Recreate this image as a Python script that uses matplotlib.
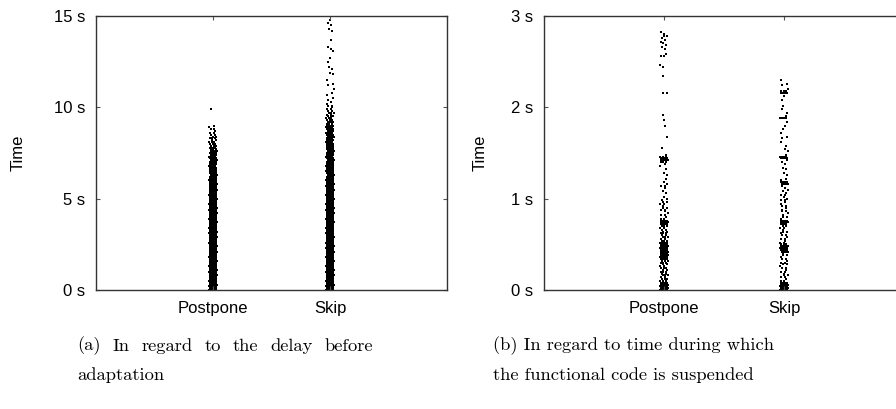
import numpy as np
import matplotlib.pyplot as plt

# number of runs at each time level (left: 0.1 s steps, right: 0.02 s steps)
delay_step = 0.1
delay_postpone = [12, 10, 9, 9, 8, 8, 7, 8, 7, 7,
                  7, 8, 7, 6, 7, 7, 8, 7, 7, 6,
                  7, 7, 7, 6, 7, 8, 7, 6, 7, 7,
                  7, 6, 7, 7, 6, 7, 7, 6, 7, 6,
                  7, 6, 7, 6, 6, 7, 6, 6, 7, 6,
                  6, 6, 7, 6, 6, 6, 6, 5, 6, 6,
                  6, 5, 6, 5, 6, 5, 5, 5, 4, 5,
                  5, 4, 4, 5, 4, 4, 4, 3, 4, 3,
                  3, 3, 2, 3, 2, 2, 2, 1, 2, 1,
                  1, 0, 0, 0, 0, 0, 0, 0, 0, 1]
delay_skip = [12, 10, 9, 8, 8, 8, 7, 8, 7, 7,
              7, 7, 8, 7, 7, 6, 7, 7, 7, 7,
              7, 6, 7, 7, 7, 7, 6, 7, 7, 6,
              7, 7, 6, 7, 7, 7, 6, 7, 6, 7,
              7, 6, 7, 7, 6, 7, 6, 7, 6, 6,
              7, 6, 6, 7, 6, 6, 6, 7, 6, 6,
              6, 6, 6, 5, 6, 6, 5, 6, 6, 5,
              6, 5, 6, 5, 5, 5, 5, 6, 5, 5,
              5, 5, 5, 4, 5, 4, 5, 4, 4, 4,
              4, 3, 4, 3, 3, 3, 2, 3, 2, 2,
              1, 2, 1, 1, 1, 1, 0, 1, 1, 0,
              1, 0, 1, 1, 0, 1, 0, 0, 1, 1,
              0, 1, 1, 0, 0, 1, 0, 1, 0, 0,
              0, 1, 1, 1, 0, 0, 0, 1, 0, 0,
              0, 0, 1, 1, 0, 1, 1, 0, 1, 0]

susp_step = 0.02
susp_postpone = [14, 12, 10, 10, 8, 3, 3, 2, 3, 2,
                 3, 2, 3, 2, 2, 3, 3, 4, 6, 7,
                 8, 8, 9, 8, 9, 8, 6, 3, 2, 3,
                 2, 3, 2, 2, 2, 3, 5, 6, 4, 2,
                 1, 2, 1, 1, 2, 2, 1, 2, 2, 1,
                 1, 1, 0, 1, 1, 0, 1, 2, 1, 1,
                 0, 1, 0, 1, 1, 0, 1, 0, 1, 1,
                 3, 6, 7, 3, 1, 0, 0, 0, 1, 0,
                 0, 0, 0, 0, 1, 0, 0, 0, 0, 0,
                 1, 0, 0, 1, 0, 0, 1, 0, 0, 0,
                 0, 0, 0, 0, 0, 0, 0, 0, 2, 0,
                 0, 0, 0, 0, 0, 0, 0, 1, 0, 0,
                 0, 0, 1, 1, 0, 0, 0, 0, 2, 1,
                 0, 0, 1, 1, 1, 1, 1, 1, 1, 2,
                 1, 1]
susp_skip = [14, 12, 10, 8, 6, 2, 1, 2, 2, 1,
             2, 1, 2, 1, 2, 2, 1, 2, 1, 2,
             1, 4, 6, 7, 5, 3, 2, 1, 2, 1,
             2, 1, 2, 1, 2, 2, 4, 6, 4, 1,
             2, 1, 1, 2, 1, 1, 2, 1, 1, 2,
             1, 1, 2, 1, 1, 1, 1, 1, 4, 5,
             1, 1, 0, 1, 1, 0, 1, 1, 0, 1,
             1, 1, 5, 5, 1, 0, 1, 1, 0, 1,
             0, 1, 0, 1, 1, 0, 1, 0, 1, 0,
             1, 0, 1, 0, 4, 1, 0, 1, 0, 1,
             0, 1, 0, 0, 1, 0, 1, 0, 5, 3,
             1, 0, 1, 1, 0, 1]

categories = ['Postpone', 'Skip']
caption_a = ['(a) In regard to the delay before', 'adaptation']
caption_b = ['(b) In regard to time during which', 'the functional code is suspended']


def strip(ax, pos, counts, step, half):
    xs, ys = [], []
    for i, n in enumerate(counts):
        phase = (i * 0.618) % 1.0
        for k in range(n):
            f = ((k + phase) / n) if n > 1 else phase
            xs.append(pos - half + 2 * half * f)
            ys.append(i * step)
    ax.scatter(xs, ys, s=0.6, marker='s', c='k', linewidths=0)


def justified(fig, line, x0, x1, y):
    # lay words out so the line fills x0..x1 (pixels), like the LaTeX caption
    r = fig.canvas.get_renderer()
    words = line.split()
    ts = [fig.text(0, 1 - y/409, w, family='cmr10', fontsize=13.3, va='center') for w in words]
    ws = [t.get_window_extent(r).width for t in ts]
    gap = (x1 - x0 - sum(ws)) / (len(words) - 1)
    x = x0
    for t, w in zip(ts, ws):
        t.set_x(x / 896)
        x += w + gap


plt.rcParams['font.family'] = ['Liberation Sans', 'DejaVu Sans']
fig = plt.figure(figsize=(8.96, 4.09), dpi=100)
ax1 = fig.add_axes([96/896, 119/409, 351/896, 274/409])
ax2 = fig.add_axes([544/896, 119/409, 360/896, 274/409])

strip(ax1, 1, delay_postpone, delay_step, 0.032)
strip(ax1, 2, delay_skip, delay_step, 0.032)
strip(ax2, 1, susp_postpone, susp_step, 0.032)
strip(ax2, 2, susp_skip, susp_step, 0.032)

for ax, top in [(ax1, 15), (ax2, 3)]:
    ax.set_xlim(0, 3)
    ax.set_ylim(0, top)
    ax.set_xticks([1, 2])
    ax.set_xticklabels(categories)
    ax.set_ylabel('Time', fontsize=12)
    ax.tick_params(direction='in', top=True, right=True, length=3, width=0.8,
                   color='#555555', labelsize=12, pad=8)
    for sp in ax.spines.values():
        sp.set_color('#333333')
        sp.set_linewidth(1.0)

ax1.set_yticks([0, 5, 10, 15])
ax1.set_yticklabels(['0 s', '5 s', '10 s', '15 s'])
ax2.set_yticks([0, 1, 2, 3])
ax2.set_yticklabels(['0 s', '1 s', '2 s', '3 s'])
ax1.yaxis.set_label_coords(-0.2, 0.5)
ax2.yaxis.set_label_coords(-0.157, 0.5)

justified(fig, caption_a[0], 77, 373, 346)
fig.text(77/896, 1 - 375/409, caption_a[1], family='cmr10', fontsize=13.3, va='center')
fig.text(493/896, 1 - 346/409, caption_b[0], family='cmr10', fontsize=13.3, va='center')
fig.text(493/896, 1 - 375/409, caption_b[1], family='cmr10', fontsize=13.3, va='center')

fig.savefig('out.png', dpi=100)
